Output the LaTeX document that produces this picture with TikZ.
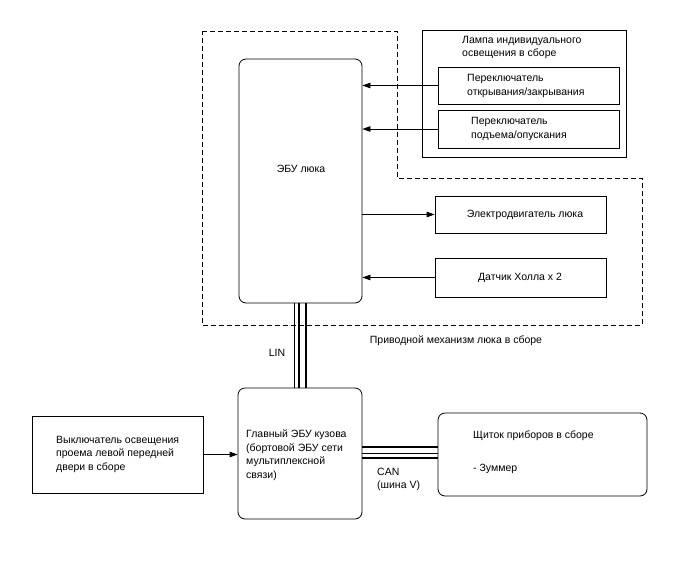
\documentclass[tikz,border=0pt]{standalone}
\usepackage{fontspec}
\setmainfont{Liberation Sans}
\usetikzlibrary{arrows.meta}
\begin{document}
\begin{tikzpicture}[x=1pt,y=-1pt,
  every node/.style={font=\fontsize{10.5}{13.5}\selectfont},
  box/.style={draw, line width=0.8pt, inner sep=0pt},
  rbox/.style={box, rounded corners=7pt},
  txt/.style={inner sep=0pt, align=left, anchor=west},
  ctxt/.style={inner sep=0pt, align=center},
  arr/.style={line width=0.8pt, -{Triangle[length=8pt,width=5.5pt]}},
  zone/.style={line width=0.8pt, dash pattern=on 5pt off 3pt},
  bus/.style={line width=#1}]
\useasboundingbox (0,0) rectangle (688,560);
\fill[white] (0,0) rectangle (688,560);

% dashed assembly region
\draw[zone] (202,31) -- (397,31) -- (397,178) -- (642,178) -- (642,325) -- (202,325) -- cycle;

% boxes
\node[rbox, minimum width=123pt, minimum height=244pt] (ecu) at (300.5,181) {};
\node[box, minimum width=204pt, minimum height=127pt] (lamp) at (524,93.5) {};
\node[box, fill=white, minimum width=181pt, minimum height=37pt] (sw1) at (528.5,85.5) {};
\node[box, fill=white, minimum width=181pt, minimum height=38pt] (sw2) at (528.5,129) {};
\node[box, minimum width=171pt, minimum height=37pt] (motor) at (520.5,214.5) {};
\node[box, minimum width=171pt, minimum height=39pt] (hall) at (520.5,277.5) {};
\node[rbox, minimum width=124pt, minimum height=131pt] (main) at (300,453.5) {};
\node[box, minimum width=171pt, minimum height=77pt] (door) at (117.5,454.5) {};
\node[rbox, minimum width=209pt, minimum height=83pt] (cluster) at (542.5,454.5) {};

% texts
\node[txt] (lampt) at (462,47.5) {Лампа индивидуального\\освещения в сборе};
\node[txt] (sw1t) at (467,86) {Переключатель\\открывания/закрывания};
\node[txt] (sw2t) at (471,129) {Переключатель\\подъема/опускания};
\node[ctxt] (ecut) at (301,169) {ЭБУ люка};
\node[ctxt] (motort) at (525,214.5) {Электродвигатель люка};
\node[ctxt] (hallt) at (520,277.5) {Датчик Холла x 2};
\node[ctxt] (zonet) at (456,341) {Приводной механизм люка в сборе};
\node[ctxt] (lin) at (277,353) {LIN};
\node[txt] (maint) at (246,455) {Главный ЭБУ кузова\\(бортовой ЭБУ сети\\мультиплексной\\связи)};
\node[txt] (doort) at (56,454) {Выключатель освещения\\проема левой передней\\двери в сборе};
\node[txt] (clustert) at (473,436) {Щиток приборов в сборе};
\node[txt] (buzzer) at (473,469) {- Зуммер};
\node[txt] (can) at (377,479.5) {CAN\\(шина V)};

% arrows
\draw[arr] (sw1.west) -- (sw1.west -| ecu.east);
\draw[arr] (sw2.west) -- (sw2.west -| ecu.east);
\draw[arr] (ecu.east |- motor.west) -- (motor.west);
\draw[arr] (hall.west) -- (hall.west -| ecu.east);
\draw[arr] (door.east) -- (door.east -| main.west);

% LIN bus
\draw[bus=0.8pt] ([xshift=-6.5pt]ecu.south) -- ([xshift=-6.5pt]ecu.south |- main.north);
\draw[bus=2.2pt] ([xshift=-1.5pt]ecu.south) -- ([xshift=-1.5pt]ecu.south |- main.north);
\draw[bus=2pt] ([xshift=5.5pt]ecu.south) -- ([xshift=5.5pt]ecu.south |- main.north);

% CAN bus
\draw[bus=2.2pt] ([yshift=-4.5pt]main.east) -- ([yshift=-4.5pt]main.east -| cluster.west);
\draw[bus=0.8pt] ([yshift=0.5pt]main.east) -- ([yshift=0.5pt]main.east -| cluster.west);
\draw[bus=2.2pt] ([yshift=6.5pt]main.east) -- ([yshift=6.5pt]main.east -| cluster.west);
\end{tikzpicture}
\end{document}
